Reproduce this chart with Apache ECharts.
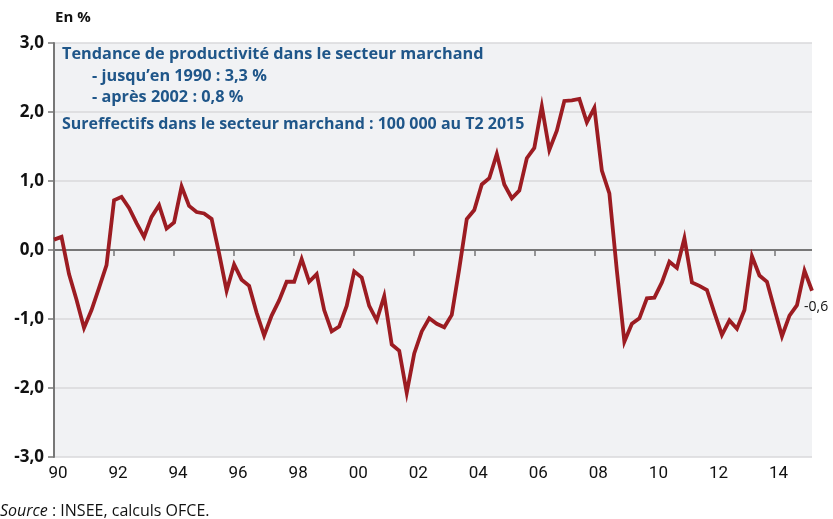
<!DOCTYPE html>
<html>
<head>
<meta charset="utf-8">
<script src="https://cdn.jsdelivr.net/npm/echarts@6/dist/echarts.min.js"></script>
<style>
html,body{margin:0;padding:0;background:#ffffff;}
#chart{width:833px;height:519px;}
</style>
</head>
<body>
<div id="chart"></div>
<script>
// Quarterly categories 1990T1 .. 2015T2
var quarters = [];
for (var y = 1990; y <= 2015; y++) {
  for (var q = 1; q <= 4; q++) {
    if (y === 2015 && q > 2) break;
    quarters.push(y + 'T' + q);
  }
}
// Tick labels (shown at first quarter of even years)
var tickYears = [1990,1992,1994,1996,1998,2000,2002,2004,2006,2008,2010,2012,2014];
var yTicks = [-3,-2,-1,0,1,2,3];

// Surplus employment / productivity gap, in %
var values = [
  0.15, 0.19, -0.35, -0.72, -1.13, -0.87, -0.55, -0.22,
  0.72, 0.77, 0.61, 0.39, 0.19, 0.48, 0.65, 0.31,
  0.40, 0.92, 0.64, 0.55, 0.53, 0.45, -0.05, -0.59,
  -0.21, -0.43, -0.52, -0.91, -1.24, -0.95, -0.73, -0.46,
  -0.46, -0.13, -0.46, -0.35, -0.87, -1.18, -1.11, -0.81,
  -0.31, -0.40, -0.81, -1.02, -0.67, -1.37, -1.46, -2.07,
  -1.50, -1.18, -0.99, -1.07, -1.12, -0.94, -0.27, 0.45,
  0.58, 0.95, 1.04, 1.39, 0.95, 0.75, 0.86, 1.33,
  1.48, 2.08, 1.45, 1.73, 2.16, 2.17, 2.19, 1.85,
  2.06, 1.15, 0.82, -0.30, -1.33, -1.07, -0.99, -0.70,
  -0.69, -0.47, -0.17, -0.26, 0.17, -0.47, -0.52, -0.58,
  -0.91, -1.23, -1.02, -1.14, -0.87, -0.09, -0.37, -0.46,
  -0.86, -1.25, -0.95, -0.80, -0.30, -0.59
];

var boxLines = [
  'Tendance de productivité dans le secteur marchand',
  '- jusqu\u2019en 1990 : 3,3 %',
  '- après 2002 : 0,8 %',
  'Sureffectifs dans le secteur marchand : 100 000 au T2 2015'
];

function fmt(v){ return v.toFixed(1).replace('.', ','); }

function isTick(idx){
  var c = quarters[idx];
  var yr = parseInt(c.slice(0,4),10);
  return c.slice(5) === '1' && tickYears.indexOf(yr) >= 0;
}

var chart = echarts.init(document.getElementById('chart'), null, {renderer: 'canvas'});
var blue = '#1f5689';
var fontMain = '"Open Sans", "Liberation Sans", sans-serif';
chart.setOption({
  animation: false,
  grid: {left: 54, right: 21, top: 43, bottom: 62, show: true,
    backgroundColor: '#f1f2f4', borderWidth: 0},
  xAxis: {
    type: 'category',
    data: quarters,
    boundaryGap: false,
    axisLine: {show: false},
    axisTick: {show: true, interval: function(i){ return isTick(i); },
      length: 6, lineStyle: {color: '#777', width: 1.5}},
    axisLabel: {interval: function(i){ return isTick(i); },
      formatter: function(v){ return v.slice(2,4); },
      color: '#111', fontSize: 17, margin: 8, padding: [0,0,0,8],
      fontFamily: '"Liberation Sans Narrow", "Roboto", sans-serif'},
    splitLine: {show: false}
  },
  yAxis: {
    type: 'value',
    min: yTicks[0], max: yTicks[yTicks.length-1], interval: 1,
    axisLine: {show: true, lineStyle: {color: '#777', width: 2}},
    axisTick: {show: true, length: 6, lineStyle: {color: '#777', width: 1.5}},
    axisLabel: {formatter: function(v){ return fmt(v); }, color: '#111',
      fontSize: 17, fontWeight: 'bold', margin: 10,
      fontFamily: '"Open Sans", "Liberation Sans", sans-serif'},
    splitLine: {show: true, lineStyle: {color: '#d8d9db', width: 1.5}}
  },
  series: [{
    type: 'line',
    data: values,
    symbol: 'none',
    lineStyle: {color: '#9c1c22', width: 3.8, join: 'miter'},
    z: 5,
    endLabel: {show: true, formatter: function(p){ return fmt(p.value); },
      color: '#111', fontSize: 14, distance: 0, offset: [-8, 16],
      fontFamily: '"Open Sans", "Liberation Sans", sans-serif'},
    markLine: {
      silent: true, symbol: 'none', label: {show: false},
      lineStyle: {color: '#777', width: 2, type: 'solid'},
      data: [{yAxis: 0}],
      z: 3
    }
  }],
  graphic: [
    {type: 'text', left: 55, top: 10, style: {text: 'En %', fill: '#111',
      font: 'bold 15px "Open Sans", "Liberation Sans", sans-serif'}},
    {type: 'text', left: 62, top: 46, style: {text: boxLines[0], fill: blue,
      font: 'bold 16.3px ' + fontMain}},
    {type: 'text', left: 92, top: 68, style: {text: boxLines[1], fill: blue,
      font: 'bold 16.3px ' + fontMain}},
    {type: 'text', left: 92, top: 89, style: {text: boxLines[2], fill: blue,
      font: 'bold 16.3px ' + fontMain}},
    {type: 'text', left: 62, top: 116, style: {text: boxLines[3], fill: blue,
      font: 'bold 16px ' + fontMain}},
    {type: 'text', left: 0, top: 503, style: {
      text: '{i|Source} : INSEE, calculs OFCE.',
      fill: '#111', font: '16px "Open Sans", "Liberation Sans", sans-serif',
      rich: {i: {fontStyle: 'italic', fontSize: 16, fontFamily: '"Open Sans", "Liberation Sans", sans-serif', fill: '#111'}}
    }}
  ]
});
</script>
</body>
</html>
